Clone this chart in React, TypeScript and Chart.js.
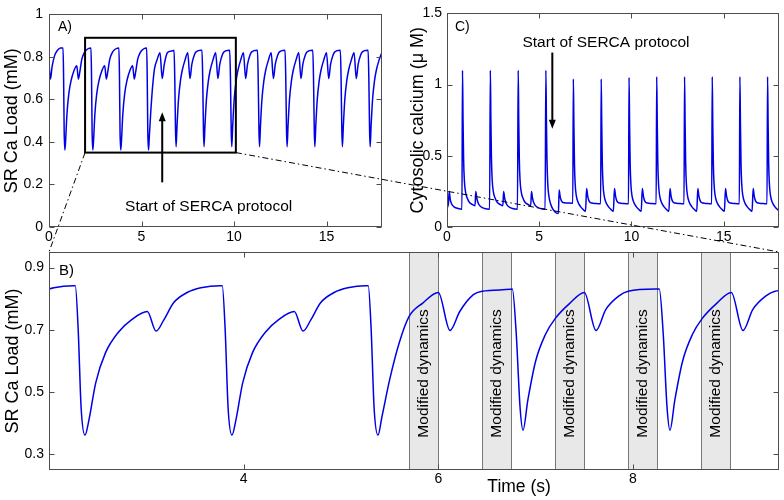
import React, { useEffect, useRef } from "react";
import { Chart, registerables } from "chart.js";
Chart.register(...registerables);

// ---- SR Ca load (mM) vs time (s) — shown in panels A and B ----
const srTime = [
  0, 0.08, 0.17, 0.3, 0.45, 0.62,
  0.76, 0.79, 0.82, 0.86, 0.9, 0.97, 1.07, 1.21, 1.34, 1.5, 1.59, 1.67, 1.77, 1.91, 2.05, 2.25,
  2.27, 2.3, 2.33, 2.37, 2.41, 2.48, 2.58, 2.72, 2.85, 3.01, 3.1, 3.18, 3.28, 3.42, 3.56, 3.76,
  3.78, 3.81, 3.84, 3.88, 3.92, 3.99, 4.09, 4.23, 4.36, 4.52, 4.61, 4.69, 4.79, 4.93, 5.07, 5.25,
  5.28, 5.31, 5.34, 5.38, 5.42, 5.5, 5.6, 5.7, 5.84, 6.0, 6.12, 6.22, 6.36, 6.45, 6.74,
  6.76, 6.8, 6.84, 6.87, 6.92, 7.0, 7.1, 7.2, 7.35, 7.5, 7.62, 7.72, 7.86, 7.95, 8.23,
  8.27, 8.31, 8.35, 8.38, 8.43, 8.51, 8.61, 8.71, 8.86, 9.01, 9.13, 9.23, 9.37, 9.46, 9.74,
  9.77, 9.81, 9.85, 9.88, 9.93, 10.01, 10.11, 10.21, 10.36, 10.51, 10.63, 10.73, 10.87, 10.96, 11.24,
  11.27, 11.31, 11.35, 11.38, 11.43, 11.51, 11.61, 11.71, 11.86, 12.01, 12.13, 12.23, 12.37, 12.46, 12.74,
  12.76, 12.8, 12.84, 12.87, 12.92, 13.0, 13.1, 13.2, 13.35, 13.5, 13.62, 13.72, 13.86, 13.95, 14.23,
  14.26, 14.3, 14.34, 14.37, 14.42, 14.5, 14.6, 14.7, 14.85, 15.0, 15.12, 15.22, 15.36, 15.45, 15.72,
  15.75, 15.79, 15.83, 15.86, 15.91, 15.99, 16.09, 16.19, 16.34, 16.49, 16.61, 16.71, 16.85, 16.94, 17.22,
  17.25, 17.29, 17.33, 17.36, 17.41, 17.49, 17.59, 17.69, 17.84, 17.99,
];
const srLoad = [
  0.77, 0.696, 0.755, 0.805, 0.83, 0.842,
  0.842, 0.7, 0.45, 0.362, 0.41, 0.53, 0.626, 0.695, 0.733, 0.759, 0.696, 0.732, 0.787, 0.82, 0.835, 0.842,
  0.842, 0.7, 0.45, 0.362, 0.41, 0.53, 0.626, 0.695, 0.733, 0.759, 0.696, 0.732, 0.787, 0.82, 0.835, 0.842,
  0.842, 0.7, 0.45, 0.362, 0.41, 0.53, 0.626, 0.695, 0.733, 0.759, 0.696, 0.732, 0.787, 0.82, 0.835, 0.842,
  0.842, 0.7, 0.45, 0.362, 0.42, 0.54, 0.66, 0.743, 0.786, 0.82, 0.698, 0.759, 0.813, 0.824, 0.83,
  0.831, 0.69, 0.45, 0.378, 0.475, 0.6, 0.685, 0.736, 0.785, 0.82, 0.698, 0.765, 0.81, 0.824, 0.831,
  0.831, 0.69, 0.45, 0.378, 0.475, 0.6, 0.685, 0.736, 0.785, 0.82, 0.698, 0.765, 0.81, 0.824, 0.831,
  0.831, 0.69, 0.45, 0.378, 0.475, 0.6, 0.685, 0.736, 0.785, 0.82, 0.698, 0.765, 0.81, 0.824, 0.831,
  0.831, 0.69, 0.45, 0.378, 0.475, 0.6, 0.685, 0.736, 0.785, 0.82, 0.698, 0.765, 0.81, 0.824, 0.831,
  0.831, 0.69, 0.45, 0.378, 0.475, 0.6, 0.685, 0.736, 0.785, 0.82, 0.698, 0.765, 0.81, 0.824, 0.831,
  0.831, 0.69, 0.45, 0.378, 0.475, 0.6, 0.685, 0.736, 0.785, 0.82, 0.698, 0.765, 0.81, 0.824, 0.831,
  0.831, 0.69, 0.45, 0.378, 0.475, 0.6, 0.685, 0.736, 0.785, 0.82, 0.698, 0.765, 0.81, 0.824, 0.831,
  0.831, 0.69, 0.45, 0.378, 0.475, 0.6, 0.685, 0.736, 0.785, 0.82,
];

// ---- Cytosolic calcium (uM) vs time (s) — panel C ----
const caTime = [
  0, 0.08, 0.12, 0.18, 0.26, 0.4, 0.6, 0.81,
  0.84, 0.87, 0.9, 0.94, 1.0, 1.09, 1.22, 1.39, 1.52, 1.56, 1.62, 1.7, 1.84, 2.04, 2.31,
  2.35, 2.38, 2.41, 2.45, 2.51, 2.6, 2.73, 2.9, 3.03, 3.07, 3.13, 3.21, 3.35, 3.55, 3.82,
  3.86, 3.89, 3.92, 3.96, 4.02, 4.11, 4.24, 4.41, 4.54, 4.58, 4.64, 4.72, 4.86, 5.06, 5.32,
  5.36, 5.39, 5.42, 5.46, 5.52, 5.61, 5.74, 5.91, 6.04, 6.08, 6.14, 6.22, 6.36, 6.56, 6.82,
  6.85, 6.88, 6.91, 6.95, 7.01, 7.1, 7.23, 7.37, 7.51, 7.57, 7.63, 7.71, 7.85, 8.05, 8.33,
  8.36, 8.39, 8.42, 8.46, 8.52, 8.61, 8.74, 8.88, 9.02, 9.08, 9.14, 9.22, 9.36, 9.56, 9.84,
  9.87, 9.9, 9.93, 9.97, 10.03, 10.12, 10.25, 10.39, 10.53, 10.59, 10.65, 10.73, 10.87, 11.07, 11.34,
  11.37, 11.4, 11.43, 11.47, 11.53, 11.62, 11.75, 11.89, 12.03, 12.09, 12.15, 12.23, 12.37, 12.57, 12.85,
  12.88, 12.91, 12.94, 12.98, 13.04, 13.13, 13.26, 13.4, 13.54, 13.6, 13.66, 13.74, 13.88, 14.08, 14.35,
  14.38, 14.41, 14.44, 14.48, 14.54, 14.63, 14.76, 14.9, 15.04, 15.1, 15.16, 15.24, 15.38, 15.58, 15.85,
  15.88, 15.91, 15.94, 15.98, 16.04, 16.13, 16.26, 16.4, 16.54, 16.6, 16.66, 16.74, 16.88, 17.08, 17.35,
  17.38, 17.41, 17.44, 17.48, 17.54, 17.63, 17.76, 17.9, 18.0,
];
const caConc = [
  0.13, 0.17, 0.25, 0.19, 0.16, 0.14, 0.13, 0.125,
  1.1, 0.75, 0.48, 0.33, 0.25, 0.205, 0.172, 0.157, 0.15, 0.25, 0.2, 0.165, 0.142, 0.13, 0.125,
  1.1, 0.75, 0.48, 0.33, 0.25, 0.205, 0.172, 0.157, 0.15, 0.25, 0.2, 0.165, 0.142, 0.13, 0.125,
  1.1, 0.75, 0.48, 0.33, 0.25, 0.205, 0.172, 0.157, 0.15, 0.25, 0.2, 0.165, 0.142, 0.13, 0.125,
  1.1, 0.75, 0.48, 0.31, 0.22, 0.165, 0.125, 0.1, 0.095, 0.26, 0.21, 0.18, 0.17, 0.168, 0.167,
  1.04, 0.72, 0.45, 0.3, 0.22, 0.175, 0.145, 0.125, 0.11, 0.27, 0.215, 0.18, 0.168, 0.165, 0.163,
  1.04, 0.72, 0.45, 0.3, 0.22, 0.175, 0.145, 0.125, 0.11, 0.27, 0.215, 0.18, 0.168, 0.165, 0.163,
  1.05, 0.72, 0.45, 0.3, 0.22, 0.175, 0.145, 0.125, 0.11, 0.27, 0.215, 0.18, 0.168, 0.165, 0.163,
  1.055, 0.72, 0.45, 0.3, 0.22, 0.175, 0.145, 0.125, 0.11, 0.27, 0.215, 0.18, 0.168, 0.165, 0.163,
  1.055, 0.72, 0.45, 0.3, 0.22, 0.175, 0.145, 0.125, 0.11, 0.27, 0.215, 0.18, 0.168, 0.165, 0.163,
  1.055, 0.72, 0.45, 0.3, 0.22, 0.175, 0.145, 0.125, 0.11, 0.27, 0.215, 0.18, 0.168, 0.165, 0.163,
  1.055, 0.72, 0.45, 0.3, 0.22, 0.175, 0.145, 0.125, 0.11, 0.27, 0.215, 0.18, 0.168, 0.165, 0.163,
  1.055, 0.72, 0.45, 0.3, 0.22, 0.175, 0.145, 0.125, 0.115,
];

// ---- ticks ----
const ticksAX = [0, 5, 10, 15];
const ticksAY = [0, 0.2, 0.4, 0.6, 0.8, 1];
const ticksCX = [0, 5, 10, 15];
const ticksCY = [0, 0.5, 1, 1.5];
const ticksBX = [4, 6, 8];
const ticksBY = [0.3, 0.5, 0.7, 0.9];

// ---- "Modified dynamics" windows (s) ----
const bandStart = [5.7, 6.45, 7.2, 7.95, 8.7];
const bandEnd = [6.0, 6.75, 7.5, 8.25, 9.0];

// ---- annotations (data coordinates) ----
const zoomBoxX = [1.95, 10.1];
const zoomBoxY = [0.35, 0.89];
const arrowA = { x: 6.12, from: 0.21, to: 0.54 };
const arrowC = { x: 5.71, from: 1.225, to: 0.69 };
const noteA = { x: 8.63, y: 0.094 };
const noteC = { x: 8.62, y: 1.293 };

const FONT = "'Liberation Sans', Arial, Helvetica, sans-serif";
const LINE = "#0000e6";
const AXIS = "#4d4d4d";

function toPoints(xs: number[], ys: number[]) {
  return xs.map((x, i) => ({ x, y: ys[i] }));
}

const framePlugin = {
  id: "matlabFrame",
  afterDatasetsDraw(chart: any) {
    const { ctx, chartArea: a, scales } = chart;
    const L = Math.round(a.left) + 0.5, R = Math.round(a.right) - 0.5;
    const T = Math.round(a.top) + 0.5, B = Math.round(a.bottom) - 0.5;
    ctx.save();
    ctx.strokeStyle = AXIS;
    ctx.lineWidth = 1;
    ctx.strokeRect(L, T, R - L, B - T);
    ctx.beginPath();
    for (const t of scales.x.ticks) {
      const px = Math.round(scales.x.getPixelForValue(t.value)) + 0.5;
      ctx.moveTo(px, B); ctx.lineTo(px, B - 5);
      ctx.moveTo(px, T); ctx.lineTo(px, T + 5);
    }
    for (const t of scales.y.ticks) {
      const py = Math.round(scales.y.getPixelForValue(t.value)) + 0.5;
      ctx.moveTo(L, py); ctx.lineTo(L + 5, py);
      ctx.moveTo(R, py); ctx.lineTo(R - 5, py);
    }
    ctx.stroke();
    ctx.restore();
  },
};

function drawArrow(ctx: CanvasRenderingContext2D, x: number, y1: number, y2: number) {
  const dir = Math.sign(y2 - y1);
  ctx.beginPath();
  ctx.moveTo(x, y1);
  ctx.lineTo(x, y2 - dir * 7);
  ctx.stroke();
  ctx.beginPath();
  ctx.moveTo(x, y2);
  ctx.lineTo(x - 3.5, y2 - dir * 9);
  ctx.lineTo(x + 3.5, y2 - dir * 9);
  ctx.closePath();
  ctx.fill();
}

function fixedTicks(values: number[]) {
  return (s: any) => {
    s.ticks = values.map((v) => ({ value: v }));
  };
}

function axisX(min: number, max: number, ticks: number[], pad: number) {
  return {
    type: "linear" as const,
    min,
    max,
    afterBuildTicks: fixedTicks(ticks),
    afterFit: (s: any) => { s.height = 25; },
    grid: { display: false, drawTicks: false },
    border: { display: false },
    ticks: {
      padding: pad,
      color: "#000",
      font: { family: FONT, size: 14 },
      maxRotation: 0,
      autoSkip: false,
      callback: (v: any) => String(v),
    },
  };
}

function axisY(min: number, max: number, ticks: number[], title: string, tpad: number, lpad: number) {
  return {
    type: "linear" as const,
    min,
    max,
    afterBuildTicks: fixedTicks(ticks),
    afterFit: (s: any) => { s.width = 49; },
    grid: { display: false, drawTicks: false },
    border: { display: false },
    title: {
      display: true,
      text: title,
      color: "#000",
      font: { family: FONT, size: 18 },
      padding: { top: tpad, bottom: 0 },
    },
    ticks: {
      padding: lpad,
      color: "#000",
      font: { family: FONT, size: 14 },
      autoSkip: false,
      callback: (v: any) => String(v),
    },
  };
}

function baseOptions(padding: any) {
  return {
    animation: false as const,
    responsive: false,
    devicePixelRatio: 1,
    events: [] as any[],
    layout: { padding },
    plugins: { legend: { display: false }, tooltip: { enabled: false } },
  };
}

function lineDataset(xs: number[], ys: number[]) {
  return {
    data: toPoints(xs, ys),
    borderColor: LINE,
    borderWidth: 1.5,
    pointRadius: 0,
    fill: false,
    cubicInterpolationMode: "monotone" as const,
  };
}

export default function App() {
  const aRef = useRef<HTMLCanvasElement>(null);
  const bRef = useRef<HTMLCanvasElement>(null);
  const cRef = useRef<HTMLCanvasElement>(null);

  useEffect(() => {
    Chart.defaults.font.family = FONT;

    const chartA = new Chart(aRef.current!, {
      type: "line",
      data: { datasets: [lineDataset(srTime, srLoad) as any] },
      options: {
        ...baseOptions({ left: 0, top: 10, right: 402, bottom: 248 }),
        scales: {
          x: axisX(0, 18, ticksAX, 2),
          y: axisY(0, 1, ticksAY, "SR Ca Load (mM)", 1, 6),
        },
      } as any,
      plugins: [
        framePlugin,
        {
          id: "annotA",
          afterDatasetsDraw(chart: any) {
            const { ctx, chartArea: a, scales } = chart;
            const x = scales.x, y = scales.y;
            ctx.save();
            ctx.strokeStyle = "#000";
            ctx.fillStyle = "#000";
            ctx.lineWidth = 2;
            const x0 = x.getPixelForValue(zoomBoxX[0]), x1 = x.getPixelForValue(zoomBoxX[1]);
            const y0 = y.getPixelForValue(zoomBoxY[0]), y1 = y.getPixelForValue(zoomBoxY[1]);
            ctx.strokeRect(x0, y1, x1 - x0, y0 - y1);
            drawArrow(ctx, x.getPixelForValue(arrowA.x), y.getPixelForValue(arrowA.from), y.getPixelForValue(arrowA.to));
            ctx.font = `15.5px ${FONT}`;
            ctx.textAlign = "center";
            ctx.textBaseline = "middle";
            ctx.fillText("Start of SERCA protocol", x.getPixelForValue(noteA.x), y.getPixelForValue(noteA.y));
            ctx.font = `14px ${FONT}`;
            ctx.textAlign = "left";
            ctx.textBaseline = "alphabetic";
            ctx.fillText("A)", a.left + 9, a.top + 17);
            ctx.restore();
          },
        },
      ],
    });

    const chartC = new Chart(cRef.current!, {
      type: "line",
      data: { datasets: [lineDataset(caTime, caConc) as any] },
      options: {
        ...baseOptions({ left: 398, top: 10, right: 5, bottom: 248 }),
        scales: {
          x: axisX(0, 18, ticksCX, 2),
          y: axisY(0, 1.5, ticksCY, "Cytosolic calcium (\u03bc M)", 9, 5),
        },
      } as any,
      plugins: [
        framePlugin,
        {
          id: "annotC",
          afterDatasetsDraw(chart: any) {
            const { ctx, chartArea: a, scales } = chart;
            const x = scales.x, y = scales.y;
            ctx.save();
            ctx.strokeStyle = "#000";
            ctx.fillStyle = "#000";
            ctx.lineWidth = 2;
            drawArrow(ctx, x.getPixelForValue(arrowC.x), y.getPixelForValue(arrowC.from), y.getPixelForValue(arrowC.to));
            ctx.font = `15.5px ${FONT}`;
            ctx.textAlign = "center";
            ctx.textBaseline = "middle";
            ctx.fillText("Start of SERCA protocol", x.getPixelForValue(noteC.x), y.getPixelForValue(noteC.y));
            ctx.font = `14px ${FONT}`;
            ctx.textAlign = "left";
            ctx.textBaseline = "alphabetic";
            ctx.fillText("C)", a.left + 8, a.top + 18);
            ctx.restore();
          },
        },
      ],
    });

    const chartB = new Chart(bRef.current!, {
      type: "line",
      data: { datasets: [lineDataset(srTime, srLoad) as any] },
      options: {
        ...baseOptions({ left: 0, top: 252, right: 5, bottom: 5 }),
        scales: {
          x: axisX(2, 9.5, ticksBX, 1),
          y: axisY(0.25, 0.95, ticksBY, "SR Ca Load (mM)", 2, 5),
        },
      } as any,
      plugins: [
        {
          id: "bands",
          beforeDatasetsDraw(chart: any) {
            const { ctx, chartArea: a, scales } = chart;
            const x = scales.x, y = scales.y;
            ctx.save();
            const cy = y.getPixelForValue(0.56);
            bandStart.forEach((s, i) => {
              const px0 = Math.round(x.getPixelForValue(s)) + 0.5;
              const px1 = Math.round(x.getPixelForValue(bandEnd[i])) + 0.5;
              ctx.fillStyle = "#e8e8e8";
              ctx.fillRect(px0, a.top, px1 - px0, a.bottom - a.top);
              ctx.strokeStyle = "#777";
              ctx.lineWidth = 1;
              ctx.beginPath();
              ctx.moveTo(px0, a.top); ctx.lineTo(px0, a.bottom);
              ctx.moveTo(px1, a.top); ctx.lineTo(px1, a.bottom);
              ctx.stroke();
              ctx.save();
              ctx.translate((px0 + px1) / 2, cy);
              ctx.rotate(-Math.PI / 2);
              ctx.fillStyle = "#000";
              ctx.font = `15.5px ${FONT}`;
              ctx.textAlign = "center";
              ctx.textBaseline = "middle";
              ctx.fillText("Modified dynamics", 0, 0);
              ctx.restore();
            });
            ctx.restore();
          },
        },
        framePlugin,
        {
          id: "annotB",
          afterDatasetsDraw(chart: any) {
            const { ctx, chartArea: a, scales } = chart;
            ctx.save();
            ctx.fillStyle = "#000";
            ctx.font = `15px ${FONT}`;
            ctx.textAlign = "left";
            ctx.textBaseline = "alphabetic";
            ctx.fillText("B)", a.left + 10, a.top + 23);
            ctx.font = `17.5px ${FONT}`;
            ctx.textAlign = "center";
            ctx.textBaseline = "middle";
            ctx.fillText("Time (s)", scales.x.getPixelForValue(6.83), a.bottom + 17);
            ctx.restore();
          },
          afterDraw(chart: any) {
            // dash-dot connectors from the zoom box in panel A to panel B
            const { ctx, chartArea: a } = chart;
            const xa = chartA.scales.x, ya = chartA.scales.y;
            const by = ya.getPixelForValue(zoomBoxY[0]);
            ctx.save();
            ctx.strokeStyle = "#000";
            ctx.lineWidth = 1;
            ctx.setLineDash([6, 3, 1.5, 3]);
            ctx.beginPath();
            ctx.moveTo(xa.getPixelForValue(zoomBoxX[0]), by);
            ctx.lineTo(a.left, a.top);
            ctx.moveTo(xa.getPixelForValue(zoomBoxX[1]), by);
            ctx.lineTo(a.right, a.top);
            ctx.stroke();
            ctx.restore();
          },
        },
      ],
    });

    return () => {
      chartB.destroy();
      chartC.destroy();
      chartA.destroy();
    };
  }, []);

  const cs: React.CSSProperties = { position: "absolute", left: 0, top: 0, width: 784, height: 500 };
  return (
    <div style={{ position: "absolute", left: 0, top: 0, width: 784, height: 500, background: "#fff" }}>
      <canvas ref={aRef} width={784} height={500} style={cs} />
      <canvas ref={cRef} width={784} height={500} style={cs} />
      <canvas ref={bRef} width={784} height={500} style={cs} />
    </div>
  );
}
